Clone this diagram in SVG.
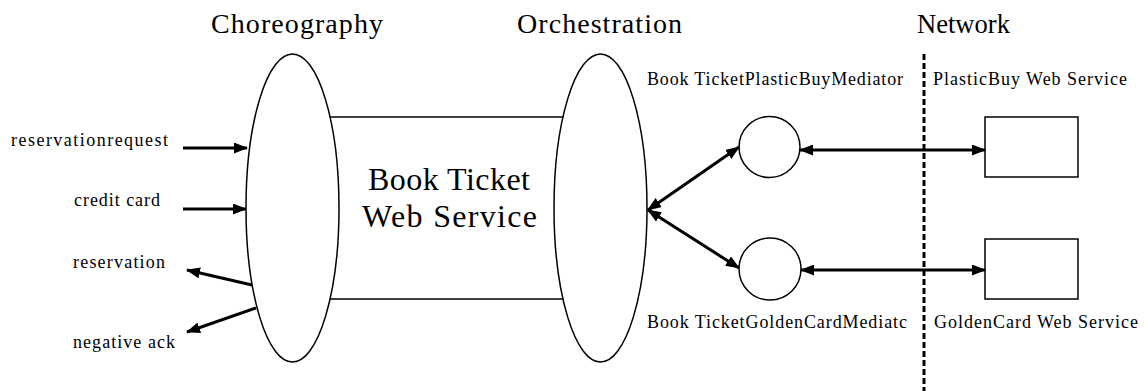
<svg xmlns="http://www.w3.org/2000/svg" width="1148" height="391" viewBox="0 0 1148 391">
<style>
.shape{fill:#fff;stroke:#000;stroke-width:1.5}
.edge{fill:none;stroke:#000;stroke-width:3}
.hdr{font-family:"Liberation Serif",serif;font-size:28px;fill:#000}
.lbl{font-family:"Liberation Serif",serif;font-size:18px;fill:#000}
.big{font-family:"Liberation Serif",serif;font-size:32px;fill:#000}
</style>
<defs>
<marker id="ah" viewBox="0 0 14 11" refX="13" refY="5.5" markerWidth="14" markerHeight="11" markerUnits="userSpaceOnUse" orient="auto-start-reverse">
<path d="M0,0 L14,5.5 L0,11 z" fill="#000"/>
</marker>
</defs>
<rect width="1148" height="391" fill="#fff"/>
<g id="headers">
<text class="hdr" x="211" y="33" textLength="172" lengthAdjust="spacing">Choreography</text>
<text class="hdr" x="517" y="33" textLength="165" lengthAdjust="spacing">Orchestration</text>
<text class="hdr" x="917" y="33" textLength="93" lengthAdjust="spacingAndGlyphs">Network</text>
</g>
<g id="book-ticket-ws">
<rect class="shape" x="292" y="117" width="308" height="182"/>
<text class="big" x="368" y="190" textLength="162" lengthAdjust="spacing">Book Ticket</text>
<text class="big" x="362" y="227" textLength="175" lengthAdjust="spacing">Web Service</text>
</g>
<g id="choreography">
<ellipse class="shape" cx="292.5" cy="208" rx="46.5" ry="154"/>
</g>
<g id="orchestration">
<ellipse class="shape" cx="600.5" cy="208" rx="46.5" ry="154"/>
</g>
<g id="plastic-mediator">
<circle class="shape" cx="769.5" cy="147" r="30.5"/>
<text class="lbl" x="647" y="85" textLength="256" lengthAdjust="spacing">Book TicketPlasticBuyMediator</text>
</g>
<g id="golden-mediator">
<circle class="shape" cx="770" cy="269" r="31"/>
<text class="lbl" x="647" y="328" textLength="260" lengthAdjust="spacing">Book TicketGoldenCardMediatc</text>
</g>
<g id="plastic-ws">
<rect class="shape" x="985" y="117" width="93" height="60"/>
<text class="lbl" x="933" y="85" textLength="194" lengthAdjust="spacing">PlasticBuy Web Service</text>
</g>
<g id="golden-ws">
<rect class="shape" x="985" y="239" width="93" height="60"/>
<text class="lbl" x="934" y="328" textLength="204" lengthAdjust="spacing">GoldenCard Web Service</text>
</g>
<g id="network-line">
<line x1="924" y1="54" x2="924" y2="391" stroke="#000" stroke-width="3" stroke-dasharray="6 3"/>
</g>
<g id="io-labels">
<text class="lbl" x="11" y="146" textLength="157" lengthAdjust="spacing">reservationrequest</text>
<text class="lbl" x="74" y="206" textLength="86" lengthAdjust="spacing">credit card</text>
<text class="lbl" x="73" y="268" textLength="92" lengthAdjust="spacing">reservation</text>
<text class="lbl" x="73" y="348" textLength="102" lengthAdjust="spacing">negative ack</text>
</g>
<g id="connectors">
<line class="edge" x1="183" y1="148" x2="247" y2="148" marker-end="url(#ah)"/>
<line class="edge" x1="183" y1="209" x2="246" y2="209" marker-end="url(#ah)"/>
<line class="edge" x1="252" y1="285" x2="187" y2="270" marker-end="url(#ah)"/>
<line class="edge" x1="256" y1="308" x2="187" y2="332" marker-end="url(#ah)"/>
<line class="edge" x1="648" y1="210" x2="739" y2="147" marker-start="url(#ah)" marker-end="url(#ah)"/>
<line class="edge" x1="648" y1="210" x2="739" y2="268" marker-start="url(#ah)" marker-end="url(#ah)"/>
<line class="edge" x1="800" y1="150" x2="985" y2="150" marker-start="url(#ah)" marker-end="url(#ah)"/>
<line class="edge" x1="801" y1="270" x2="985" y2="270" marker-start="url(#ah)" marker-end="url(#ah)"/>
</g>
</svg>
